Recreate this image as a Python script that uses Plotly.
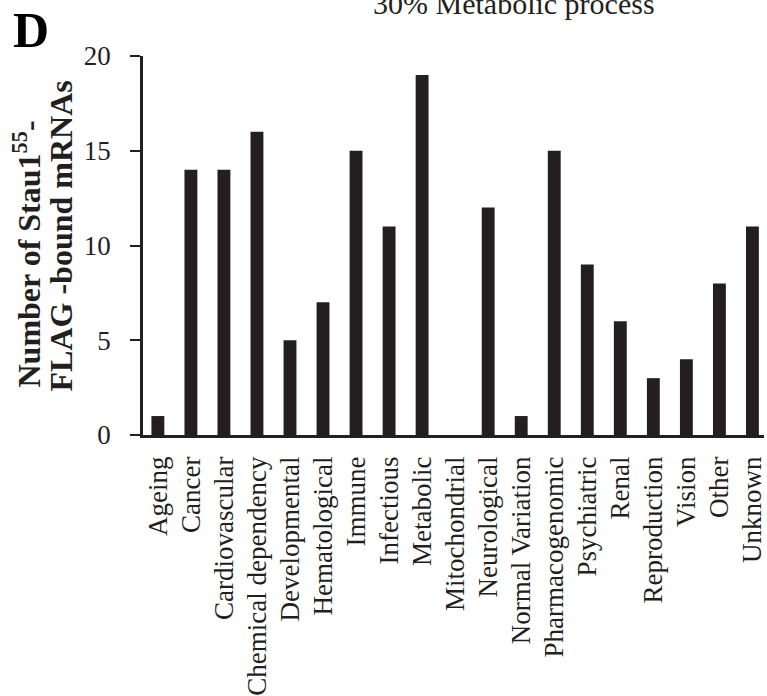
import plotly.graph_objects as go

categories = [
    "Ageing", "Cancer", "Cardiovascular", "Chemical dependency", "Developmental",
    "Hematological", "Immune", "Infectious", "Metabolic", "Mitochondrial",
    "Neurological", "Normal Variation", "Pharmacogenomic", "Psychiatric", "Renal",
    "Reproduction", "Vision", "Other", "Unknown",
]
counts = [1, 14, 14, 16, 5, 7, 15, 11, 19, 0, 12, 1, 15, 9, 6, 3, 4, 8, 11]
y_ticks = [0, 5, 10, 15, 20]

SERIF = "Liberation Serif, Times New Roman, serif"
INK = "#231f20"

# plot area in pixels: left edge 143, y=0 at 437, y=20 at 56
PLOT_L, PLOT_W, Y0_PX, PLOT_H = 143, 624, 437, 381


def px_x(p):
    return (p - PLOT_L) / PLOT_W


def px_y(p):
    return (Y0_PX - p) / PLOT_H


fig = go.Figure(
    go.Bar(
        x=list(range(len(categories))),
        y=counts,
        width=0.39,
        marker=dict(color=INK, line=dict(width=0)),
    )
)

fig.update_layout(
    width=767,
    height=696,
    margin=dict(l=PLOT_L, r=0, t=56, b=259),
    paper_bgcolor="white",
    plot_bgcolor="white",
    showlegend=False,
    font=dict(family=SERIF, color=INK),
)

fig.update_xaxes(
    range=[-0.45, 18.35],
    tickmode="array",
    tickvals=list(range(len(categories))),
    ticktext=categories,
    tickangle=-90,
    ticks="",
    tickfont=dict(family=SERIF, size=27, color=INK),
    ticklabeloverflow="allow",
    showline=True,
    linecolor=INK,
    linewidth=2.5,
    showgrid=False,
    zeroline=False,
    ticklabelstandoff=8,
)

fig.update_yaxes(
    range=[0, 20],
    tickmode="array",
    tickvals=y_ticks,
    ticks="outside",
    ticklen=10,
    tickwidth=2,
    tickcolor=INK,
    tickfont=dict(family=SERIF, size=27, color=INK),
    showline=True,
    linecolor=INK,
    linewidth=2.5,
    showgrid=False,
    zeroline=False,
    ticklabelstandoff=14,
)

# Panel letter, header text and the two-line axis title
fig.add_annotation(
    text="<b>D</b>", x=px_x(30), y=px_y(30), xref="paper", yref="paper",
    xanchor="center", yanchor="middle", showarrow=False,
    font=dict(family=SERIF, size=50, color="black"),
)
fig.add_annotation(
    text="30% Metabolic process", x=px_x(516), y=px_y(3), xref="paper", yref="paper",
    xanchor="center", yanchor="middle", showarrow=False,
    font=dict(family=SERIF, size=30, color=INK),
)
fig.add_annotation(
    text="<b>Number of Stau1<sup>55</sup>-</b>", x=px_x(26), y=px_y(255),
    xref="paper", yref="paper", xanchor="center", yanchor="middle",
    textangle=-90, showarrow=False,
    font=dict(family=SERIF, size=32, color=INK),
)
fig.add_annotation(
    text="<b>FLAG -bound mRNAs</b>", x=px_x(61), y=px_y(237),
    xref="paper", yref="paper", xanchor="center", yanchor="middle",
    textangle=-90, showarrow=False,
    font=dict(family=SERIF, size=32, color=INK),
)

fig.write_html("out.html")
